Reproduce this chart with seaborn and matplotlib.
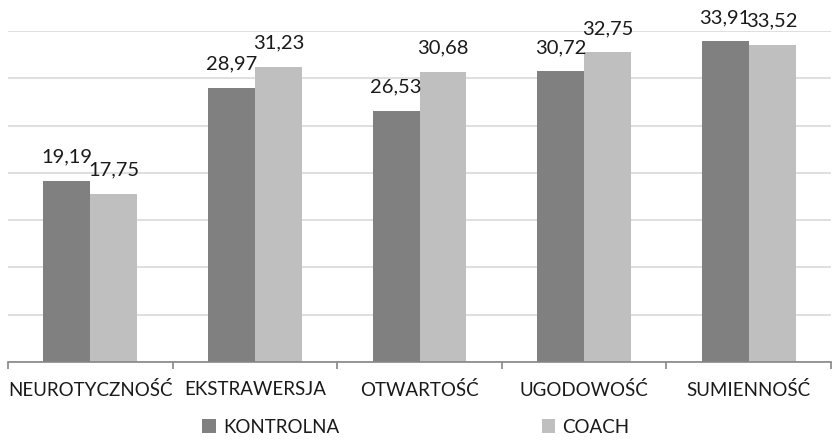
import matplotlib
matplotlib.use("Agg")
import matplotlib.pyplot as plt
import seaborn as sns
import pandas as pd
from matplotlib.patches import Patch

categories = ["NEUROTYCZNOŚĆ", "EKSTRAWERSJA", "OTWARTOŚĆ", "UGODOWOŚĆ", "SUMIENNOŚĆ"]
groups = ["KONTROLNA", "COACH"]
kontrolna = [19.19, 28.97, 26.53, 30.72, 33.91]
coach = [17.75, 31.23, 30.68, 32.75, 33.52]

df = pd.DataFrame({
    "cecha": categories * 2,
    "grupa": [groups[0]] * len(categories) + [groups[1]] * len(categories),
    "wynik": kontrolna + coach,
})

sns.set_theme(style="white")
plt.rcParams["font.family"] = ["Lato", "DejaVu Sans"]

palette = {"KONTROLNA": "#808080", "COACH": "#BFBFBF"}

fig = plt.figure(figsize=(8.32, 4.40), dpi=100)
ax = fig.add_axes([8 / 832, 1 - 362 / 440, 823 / 832, (362 - 31) / 440])

sns.barplot(data=df, x="cecha", y="wynik", hue="grupa", order=categories,
            hue_order=groups, palette=palette, width=0.57, saturation=1,
            linewidth=0, legend=False, ax=ax)

ax.set_ylim(0, 35)
ax.set_xlim(-0.5, len(categories) - 0.5)
ax.set_yticks(range(0, 36, 5))
ax.yaxis.grid(True, color="#D9D9D9", linewidth=1.2)
ax.set_axisbelow(True)
ax.tick_params(axis="y", left=False, labelleft=False)
ax.set_xlabel("")
ax.set_ylabel("")
for side in ["top", "right", "left"]:
    ax.spines[side].set_visible(False)
ax.spines["bottom"].set_color("#868686")
ax.spines["bottom"].set_linewidth(1.2)

# category boundaries carry the tick marks
ax.set_xticks([i - 0.5 for i in range(len(categories) + 1)], minor=True)
ax.tick_params(axis="x", which="minor", bottom=True, length=5, width=1.2,
               color="#868686", direction="out")
ax.tick_params(axis="x", which="major", bottom=False, labelsize=13.5,
               labelcolor="#1a1a1a", pad=8)

for container in ax.containers:
    ax.bar_label(container, labels=[f"{v:.2f}".replace(".", ",") for v in container.datavalues],
                 padding=11, fontsize=14.5, color="#1a1a1a")

handles = [Patch(facecolor=palette[g], edgecolor="none") for g in groups]
fig.legend(handles, groups, loc="center", bbox_to_anchor=(0.5, 1 - 427 / 440),
           ncol=2, frameon=False, fontsize=13.5, handlelength=0.7, handleheight=0.7,
           handletextpad=0.4, columnspacing=10.8, labelcolor="#1a1a1a")

fig.savefig("out.png", dpi=100)
